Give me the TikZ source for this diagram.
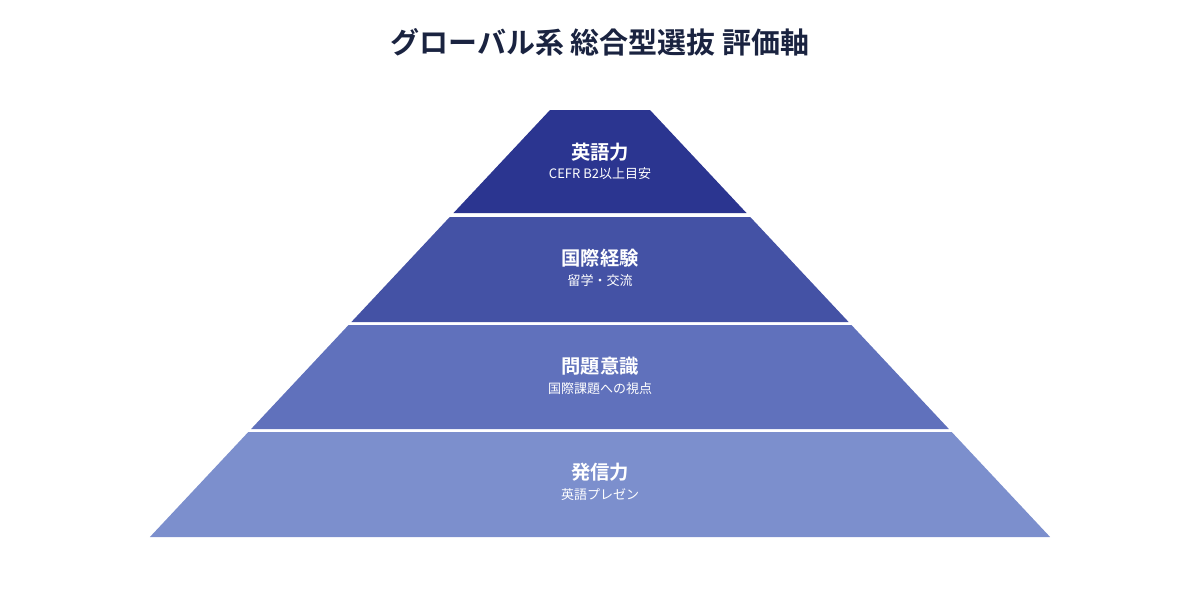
\documentclass[tikz,border=0pt]{standalone}
\usepackage{fontspec}
\newfontfamily\cjk{Noto Sans CJK JP}
\newfontfamily\cjkb{Noto Sans CJK JP Bold}
\definecolor{c1}{HTML}{2B3590}
\definecolor{c2}{HTML}{4452A5}
\definecolor{c3}{HTML}{6071BC}
\definecolor{c4}{HTML}{7C8FCD}
\definecolor{tt}{HTML}{1A2340}
\begin{document}
\begin{tikzpicture}[x=0.02cm,y=-0.02cm,
  lbl/.style={text=white,font=\cjkb\fontsize{11}{13}\selectfont,inner sep=0},
  sub/.style={text=white,font=\cjk\fontsize{7.4}{9}\selectfont,inner sep=0}]
\useasboundingbox (0,0) rectangle (1200,600);
\node[text=tt,font=\cjkb\fontsize{16.5}{20}\selectfont] (title) at (600,42) {グローバル系 総合型選抜 評価軸};
\def\hw#1{(50+(#1-110)*0.937)}
\foreach \t/\b/\c in {110/213/c1,217/322/c2,325/429/c3,432/537/c4}{
  \fill[\c] ({600-\hw{\t}},\t) -- ({600+\hw{\t}},\t) -- ({600+\hw{\b}},\b) -- ({600-\hw{\b}},\b) -- cycle;
}
\node[lbl] (l1) at (600,152) {英語力};
\node[sub] (s1) at (600,174) {CEFR B2以上目安};
\node[lbl] (l2) at (600,258) {国際経験};
\node[sub] (s2) at (600,281) {留学・交流};
\node[lbl] (l3) at (600,366) {問題意識};
\node[sub] (s3) at (600,389) {国際課題への視点};
\node[lbl] (l4) at (600,472) {発信力};
\node[sub] (s4) at (600,495) {英語プレゼン};
\end{tikzpicture}
\end{document}
